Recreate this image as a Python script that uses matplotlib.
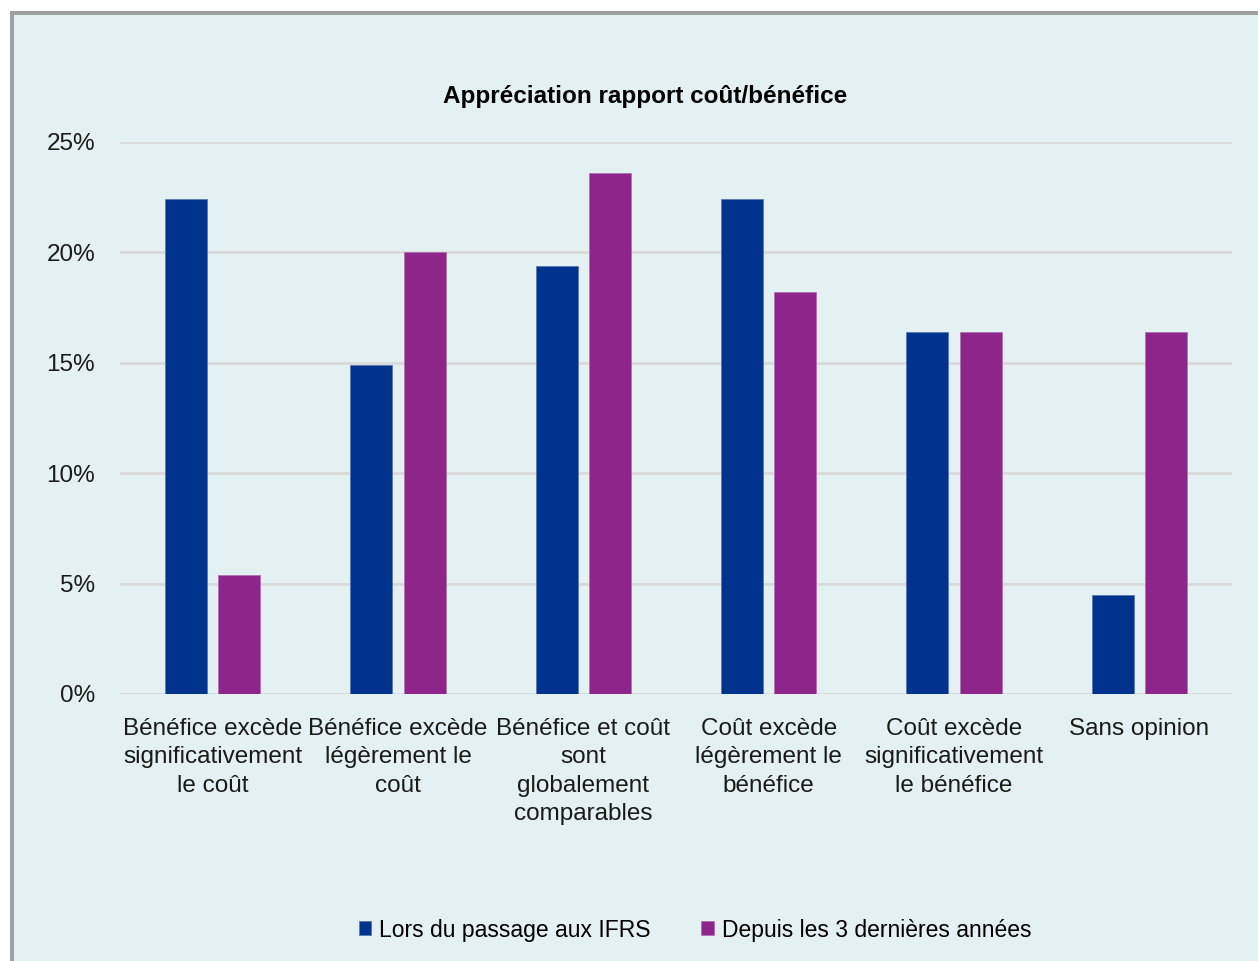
import numpy as np
import matplotlib
matplotlib.use("Agg")
import matplotlib.pyplot as plt
from matplotlib.patches import Rectangle

plt.rcParams['font.family'] = ['Liberation Sans', 'DejaVu Sans']

categories = [
    "Bénéfice excède\nsignificativement\nle coût",
    "Bénéfice excède\nlégèrement le\ncoût",
    "Bénéfice et coût\nsont\nglobalement\ncomparables",
    "Coût excède\nlégèrement le\nbénéfice",
    "Coût excède\nsignificativement\nle bénéfice",
    "Sans opinion",
]
series_names = ["Lors du passage aux IFRS", "Depuis les 3 dernières années"]
ifrs = [22.4, 14.9, 19.4, 22.4, 16.4, 4.5]
recent = [5.4, 20.0, 23.6, 18.2, 16.4, 16.4]
yticks = [0, 5, 10, 15, 20, 25]

blue = "#00338D"
purple = "#8E258A"
panel_bg = "#E3F1F2"

W, H = 1258, 961
fig = plt.figure(figsize=(W / 100, H / 100), dpi=100)
fig.patch.set_facecolor("white")

# panel with grey shadow edge on top/left
fig.patches.append(Rectangle((10 / W, 0), 1, 1 - 11 / H, transform=fig.transFigure,
                             facecolor="#A0A0A0", edgecolor="none", zorder=-10))
fig.patches.append(Rectangle((14 / W, 0), 1, 1 - 15 / H, transform=fig.transFigure,
                             facecolor=panel_bg, edgecolor="none", zorder=-9))

ax = fig.add_axes([120 / W, 1 - 694 / H, (1232 - 120) / W, (694 - 142) / H])
ax.set_facecolor("none")

x = np.arange(len(categories))
bw = 0.227
off = 0.144
ax.bar(x - off, ifrs, bw, color=blue, edgecolor="#5A78B0", linewidth=0.6,
       label=series_names[0], zorder=3)
ax.bar(x + off, recent, bw, color=purple, edgecolor="#B070B0", linewidth=0.6,
       label=series_names[1], zorder=3)

ax.set_xlim(-0.5, len(categories) - 0.5)
ax.set_ylim(0, 25)
ax.set_yticks(yticks)
ax.set_yticklabels([f"{v}%" for v in yticks], fontsize=17.5, color="#1a1a1a")
ax.yaxis.grid(True, color="#D9D9D9", linewidth=2, zorder=0)
ax.set_axisbelow(True)
ax.tick_params(axis="y", length=0, pad=18)
ax.tick_params(axis="x", length=0, pad=17)
ax.set_xticks(x)
ax.set_xticklabels(categories, fontsize=17.5, color="#1a1a1a", linespacing=1.38)
for s in ax.spines.values():
    s.set_visible(False)

fig.text(645 / W, 1 - 97 / H, "Appréciation rapport coût/bénéfice",
         ha="center", va="center", fontsize=17.5, fontweight="bold")

fig.legend(loc="center", bbox_to_anchor=(695 / W, 1 - 930 / H), ncol=2,
           frameon=False, fontsize=16.5, handlelength=0.55, handleheight=0.55,
           handletextpad=0.35, columnspacing=2.2)

fig.savefig("out.png", dpi=100, facecolor=fig.get_facecolor())
